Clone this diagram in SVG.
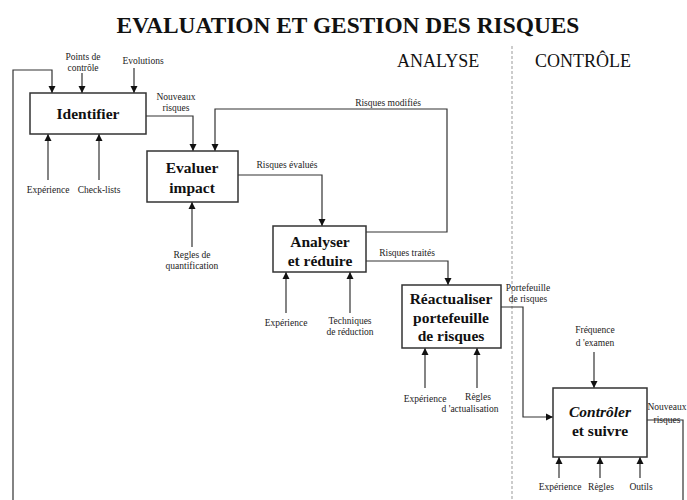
<svg xmlns="http://www.w3.org/2000/svg" width="687" height="500" viewBox="0 0 687 500">
<style>
.box{fill:#fff;stroke:#333;stroke-width:1.5}
.bt{font-family:"Liberation Serif","Times New Roman","DejaVu Serif",serif;font-weight:bold;font-size:15.5px;fill:#111;text-anchor:middle}
.sm{font-family:"Liberation Serif","Times New Roman","DejaVu Serif",serif;font-size:9.5px;fill:#222;text-anchor:middle}
.ln{fill:none;stroke:#333;stroke-width:1.2}
.arr{fill:none;stroke:#333;stroke-width:1.2;marker-end:url(#ah)}
.hd{font-family:"Liberation Serif","Times New Roman","DejaVu Serif",serif;font-size:18px;fill:#111}
.ti{font-family:"Liberation Serif","Times New Roman","DejaVu Serif",serif;font-weight:bold;font-size:23.4px;fill:#111;text-anchor:middle}
</style>
<defs>
<marker id="ah" markerWidth="8" markerHeight="8" refX="7" refY="4" orient="auto" markerUnits="userSpaceOnUse">
<path d="M0,0.5 L7,4 L0,7.5 Z" fill="#111"/>
</marker>
</defs>
<rect width="687" height="500" fill="#fff"/>
<text class="ti" x="348" y="33">EVALUATION ET GESTION DES RISQUES</text>
<text class="hd" x="397" y="67">ANALYSE</text>
<text class="hd" x="535" y="67">CONTRÔLE</text>
<line x1="512" y1="46" x2="512" y2="500" stroke="#999" stroke-width="1" stroke-dasharray="3,2"/>

<g id="connectors">
<polyline class="arr" points="13,500 13,70 52,70 52,93"/>
<line class="arr" x1="82" y1="73" x2="82" y2="93"/>
<line class="arr" x1="134" y1="68" x2="134" y2="93"/>
<line class="arr" x1="48" y1="180" x2="48" y2="134"/>
<line class="arr" x1="99" y1="180" x2="99" y2="134"/>
<polyline class="arr" points="146,116 193,116 193,151"/>
<polyline class="arr" points="366,232 447,232 447,109 215,109 215,151"/>
<polyline class="arr" points="238,175 322,175 322,226"/>
<line class="arr" x1="192" y1="247" x2="192" y2="202"/>
<line class="arr" x1="286" y1="313" x2="286" y2="272"/>
<line class="arr" x1="350" y1="313" x2="350" y2="272"/>
<polyline class="arr" points="366,261 448,261 448,285"/>
<line class="arr" x1="425" y1="388" x2="425" y2="348"/>
<line class="arr" x1="477" y1="388" x2="477" y2="348"/>
<polyline class="arr" points="501,307 523,307 523,417 553,417"/>
<line class="arr" x1="594" y1="352" x2="594" y2="388"/>
<line class="arr" x1="559" y1="478" x2="559" y2="457"/>
<line class="arr" x1="600" y1="478" x2="600" y2="457"/>
<line class="arr" x1="640" y1="478" x2="640" y2="457"/>
<polyline class="ln" points="647,420 683,420 683,500"/>
</g>

<g id="labels">
<text class="sm" x="83" y="60">Points de</text>
<text class="sm" x="83" y="71">contrôle</text>
<text class="sm" x="143" y="64">Evolutions</text>
<text class="sm" x="48" y="193">Expérience</text>
<text class="sm" x="99" y="193">Check-lists</text>
<text class="sm" x="176" y="100">Nouveaux</text>
<text class="sm" x="176" y="111">risques</text>
<text class="sm" x="388" y="106">Risques modifiés</text>
<text class="sm" x="287" y="168">Risques évalués</text>
<text class="sm" x="192" y="258">Regles de</text>
<text class="sm" x="192" y="269">quantification</text>
<text class="sm" x="286" y="326">Expérience</text>
<text class="sm" x="350" y="324">Techniques</text>
<text class="sm" x="350" y="335">de réduction</text>
<text class="sm" x="407" y="256">Risques traités</text>
<text class="sm" x="425" y="402">Expérience</text>
<text class="sm" x="478" y="400">Règles</text>
<text class="sm" x="470" y="412">d 'actualisation</text>
<text class="sm" x="528" y="291">Portefeuille</text>
<text class="sm" x="528" y="302">de risques</text>
<text class="sm" x="595" y="333">Fréquence</text>
<text class="sm" x="595" y="346">d 'examen</text>
<text class="sm" x="560" y="490">Expérience</text>
<text class="sm" x="601" y="490">Règles</text>
<text class="sm" x="641" y="490">Outils</text>
<text class="sm" x="667" y="410" font-size="8.5">Nouveaux</text>
<text class="sm" x="667" y="423" font-size="8.5">risques</text>
</g>

<g id="identifier">
<rect class="box" x="30" y="93" width="116" height="41"/>
<text class="bt" x="88" y="119" font-size="16">Identifier</text>
</g>
<g id="evaluer">
<rect class="box" x="147" y="151" width="91" height="51"/>
<text class="bt" x="192" y="173">Evaluer</text>
<text class="bt" x="192" y="193">impact</text>
</g>
<g id="analyser">
<rect class="box" x="273" y="226" width="93" height="46"/>
<text class="bt" x="320" y="247">Analyser</text>
<text class="bt" x="320" y="266">et réduire</text>
</g>
<g id="reactualiser">
<rect class="box" x="402" y="285" width="99" height="63"/>
<text class="bt" x="451" y="304">Réactualiser</text>
<text class="bt" x="451" y="323">portefeuille</text>
<text class="bt" x="451" y="341">de risques</text>
</g>
<g id="controler">
<rect class="box" x="553" y="388" width="94" height="69"/>
<text class="bt" x="600" y="417" font-style="italic">Contrôler</text>
<text class="bt" x="600" y="436">et suivre</text>
</g>
</svg>
